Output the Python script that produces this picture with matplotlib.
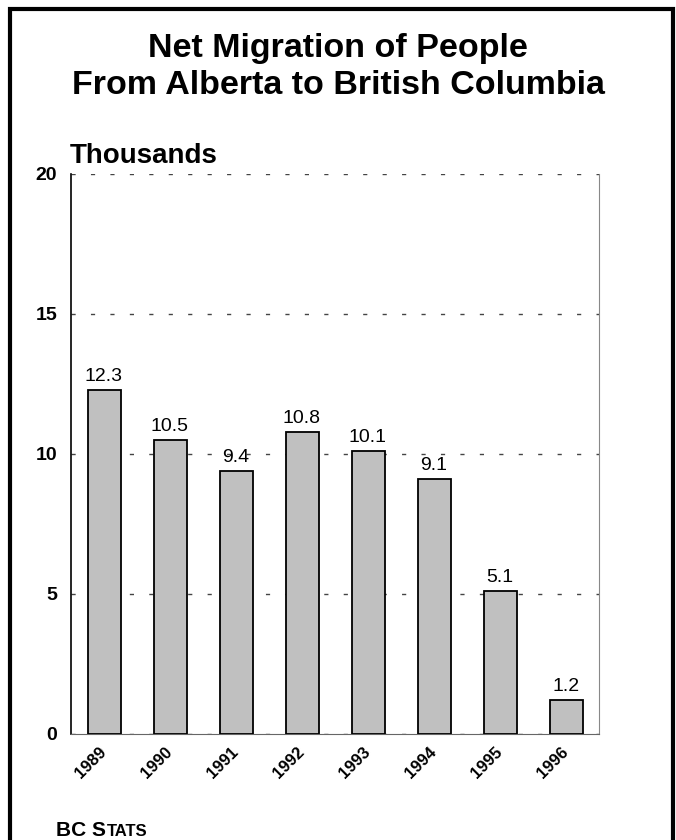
"""Net migration from Alberta to British Columbia, bar chart."""

import matplotlib.pyplot as plt
from matplotlib.patches import Rectangle

years = ["1989", "1990", "1991", "1992", "1993", "1994", "1995", "1996"]
migration = [12.3, 10.5, 9.4, 10.8, 10.1, 9.1, 5.1, 1.2]
y_ticks = [0, 5, 10, 15, 20]


def main() -> None:
    plt.rcParams["font.family"] = ["Liberation Sans", "DejaVu Sans"]

    W, H = 676, 840
    fig = plt.figure(figsize=(W / 100, H / 100), dpi=100)

    # outer frame, runs off the bottom edge
    fig.patches.append(Rectangle((10 / W, -0.05), 663 / W, 1.05 - 9 / H,
                                 transform=fig.transFigure, fill=False,
                                 edgecolor="black", linewidth=3))

    ax = fig.add_axes([71 / W, 1 - 734 / H, (599 - 71) / W, (734 - 174) / H])
    x = range(len(years))
    ax.bar(x, migration, width=0.5, color="#c0c0c0", edgecolor="black",
           linewidth=1.3, zorder=3)
    for i, v in zip(x, migration):
        ax.text(i, v + 0.18, f"{v:.1f}", ha="center", va="bottom", fontsize=14)

    ax.set_xlim(-0.5, 7.5)
    ax.set_ylim(0, 20)
    ax.set_yticks(y_ticks)
    ax.set_yticklabels([str(t) for t in y_ticks], fontsize=14, fontweight="bold")
    ax.set_xticks(list(x))
    ax.set_xticklabels(years, rotation=45, ha="right", va="center",
                       rotation_mode="anchor", fontsize=12, fontweight="bold")
    ax.tick_params(axis="x", length=0, pad=11)
    ax.tick_params(axis="y", length=0, pad=10)
    ax.yaxis.grid(True, color="#444444", linestyle=(0, (3, 11)), linewidth=1)
    ax.set_axisbelow(True)
    ax.spines["top"].set_visible(False)
    ax.spines["left"].set_color("black")
    ax.spines["left"].set_linewidth(1.2)
    ax.spines["right"].set_color("#888888")
    ax.spines["bottom"].set_color("#666666")

    fig.text(338 / W, 1 - 48 / H, "Net Migration of People",
             ha="center", va="center", fontsize=24.5, fontweight="bold")
    fig.text(338 / W, 1 - 85 / H, "From Alberta to British Columbia",
             ha="center", va="center", fontsize=24.5, fontweight="bold")
    fig.text(70 / W, 1 - 163 / H, "Thousands", ha="left", va="baseline",
             fontsize=20, fontweight="bold")
    # "BC STATS" in small caps
    fig.text(56 / W, 1 - 836 / H, "BC S", ha="left", va="baseline",
             fontsize=15, fontweight="bold")
    fig.text(107 / W, 1 - 836 / H, "TATS", ha="left", va="baseline",
             fontsize=12, fontweight="bold")

    fig.savefig("out.png", dpi=100)
    plt.close(fig)


if __name__ == "__main__":
    main()
